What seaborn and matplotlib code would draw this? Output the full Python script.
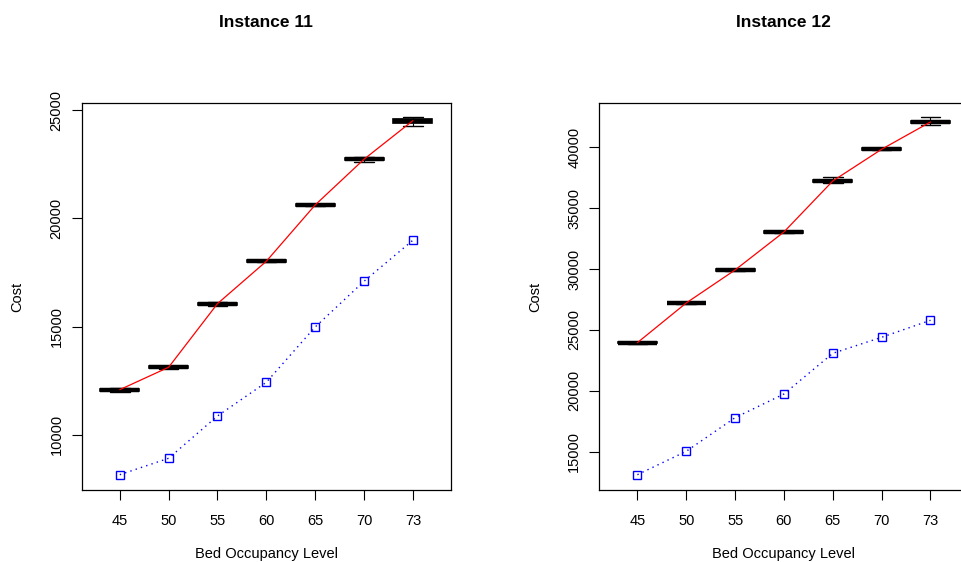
import numpy as np
import pandas as pd
import matplotlib
matplotlib.use("Agg")
import matplotlib.pyplot as plt
import seaborn as sns

levels = ["45", "50", "55", "60", "65", "70", "73"]

# Instance 11: five-number summaries (low whisker, q1, median, q3, high whisker)
inst11_lo  = [12000, 13060, 15960, 17970, 20570, 22600, 24270]
inst11_q1  = [12050, 13090, 16010, 17990, 20590, 22680, 24430]
inst11_med = [12089, 13124, 16063, 18022, 20624, 22736, 24519]
inst11_q3  = [12130, 13160, 16110, 18060, 20660, 22790, 24610]
inst11_hi  = [12170, 13180, 16130, 18080, 20680, 22820, 24680]
inst11_blue = [8161, 8919, 10873, 12431, 14986, 17098, 18993]

# Instance 12
inst12_lo  = [23880, 27150, 29840, 32960, 37090, 39740, 41830]
inst12_q1  = [23920, 27180, 29880, 33000, 37150, 39780, 41980]
inst12_med = [23957, 27217, 29926, 33046, 37233, 39836, 42077]
inst12_q3  = [23990, 27250, 29970, 33090, 37320, 39900, 42180]
inst12_hi  = [24030, 27280, 30010, 33130, 37586, 39960, 42463]
inst12_blue = [13120, 15041, 17800, 19745, 23087, 24401, 25796]

titles = ["Instance 11", "Instance 12"]
ylims = [(7440, 25320), (11840, 43610)]
yticks = [[10000, 15000, 20000, 25000],
          [15000, 20000, 25000, 30000, 35000, 40000]]

sns.set_theme(style="ticks")
plt.rcParams["font.family"] = ["Liberation Sans", "DejaVu Sans"]
plt.rcParams["text.color"] = "black"
plt.rcParams["axes.labelcolor"] = "black"
plt.rcParams["xtick.color"] = "black"
plt.rcParams["ytick.color"] = "black"

fig = plt.figure(figsize=(9.61, 5.62), dpi=100)
axes = [fig.add_axes([0.085, 0.1276, 0.3843, 0.6886]),
        fig.add_axes([0.6236, 0.1276, 0.3843, 0.6886])]

datasets = [
    (inst11_lo, inst11_q1, inst11_med, inst11_q3, inst11_hi, inst11_blue),
    (inst12_lo, inst12_q1, inst12_med, inst12_q3, inst12_hi, inst12_blue),
]

for i, (ax, d) in enumerate(zip(axes, datasets)):
    lo, q1, med, q3, hi, blue = d
    rows = []
    for k, lev in enumerate(levels):
        for v in (lo[k], q1[k], med[k], q3[k], hi[k]):
            rows.append({"level": lev, "cost": v})
    df = pd.DataFrame(rows)
    sns.boxplot(data=df, x="level", y="cost", order=levels, ax=ax,
                whis=(0, 100), width=0.8, color="white", linecolor="black",
                linewidth=1.2, showfliers=False,
                medianprops=dict(linewidth=3.2, color="black"),
                whiskerprops=dict(linestyle="--", linewidth=0.8),
                capprops=dict(linewidth=1.0))
    pos = np.arange(len(levels))
    sns.lineplot(x=pos, y=med, ax=ax, color="red", linewidth=0.9,
                 sort=False, zorder=5)
    sns.lineplot(x=pos, y=blue, ax=ax, color="blue", linewidth=1.0,
                 linestyle=(0, (1, 3)), marker="s", markersize=6,
                 markerfacecolor="none", markeredgecolor="blue",
                 markeredgewidth=1.0, sort=False, zorder=5)
    ax.set_xlim(-0.78, 6.78)
    ax.set_ylim(*ylims[i])
    ax.set_yticks(yticks[i])
    ax.set_yticklabels([str(t) for t in yticks[i]], rotation=90, va="center",
                       fontsize=10.5)
    ax.set_xticks(pos)
    ax.set_xticklabels(levels, fontsize=10.5)
    ax.tick_params(axis="both", direction="out", length=7, width=0.8,
                   color="black", pad=6)
    ax.tick_params(axis="x", pad=10)
    ax.set_xlabel("Bed Occupancy Level", fontsize=10.5, labelpad=14)
    ax.set_ylabel("Cost", fontsize=10.5, labelpad=18)
    for s in ax.spines.values():
        s.set_visible(True)
        s.set_color("black")
        s.set_linewidth(0.9)
    ax.grid(False)
    ax.set_title(titles[i], fontsize=12.5, fontweight="bold", pad=55)

fig.savefig("out.png", dpi=100)
